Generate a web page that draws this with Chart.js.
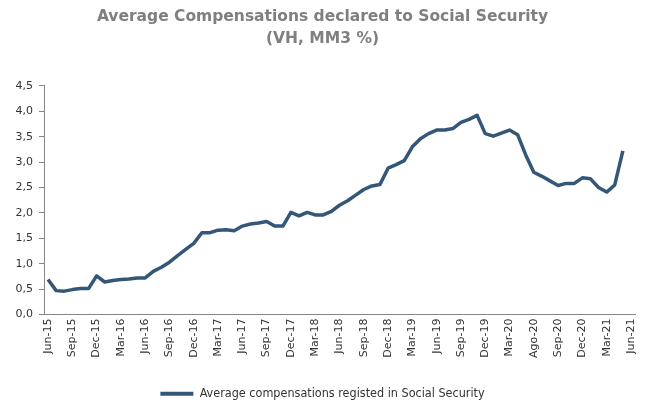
<!DOCTYPE html>
<html>
<head>
<meta charset="utf-8">
<script src="https://cdn.jsdelivr.net/npm/chart.js@4/dist/chart.umd.min.js"></script>
<style>
  html, body { margin: 0; padding: 0; background: #ffffff; }
  #wrap { width: 653px; height: 400px; position: relative; }
</style>
</head>
<body>
<div id="wrap"><canvas id="c" width="653" height="400"></canvas></div>
<script>
const months = [
  'Jun-15','Jul-15','Aug-15','Sep-15','Oct-15','Nov-15','Dec-15',
  'Jan-16','Feb-16','Mar-16','Apr-16','May-16','Jun-16','Jul-16','Aug-16','Sep-16','Oct-16','Nov-16','Dec-16',
  'Jan-17','Feb-17','Mar-17','Apr-17','May-17','Jun-17','Jul-17','Aug-17','Sep-17','Oct-17','Nov-17','Dec-17',
  'Jan-18','Feb-18','Mar-18','Apr-18','May-18','Jun-18','Jul-18','Aug-18','Sep-18','Oct-18','Nov-18','Dec-18',
  'Jan-19','Feb-19','Mar-19','Apr-19','May-19','Jun-19','Jul-19','Aug-19','Sep-19','Oct-19','Nov-19','Dec-19',
  'Jan-20','Feb-20','Mar-20','Apr-20','May-20','Jun-20','Jul-20','Aug-20','Sep-20','Oct-20','Nov-20','Dec-20',
  'Jan-21','Feb-21','Mar-21','Apr-21','May-21','Jun-21'
];

const tickLabels = [
  'Jun-15','Sep-15','Dec-15','Mar-16','Jun-16','Sep-16','Dec-16','Mar-17','Jun-17',
  'Sep-17','Dec-17','Mar-18','Jun-18','Sep-18','Dec-18','Mar-19','Jun-19','Sep-19',
  'Dec-19','Mar-20','Ago-20','Sep-20','Dec-20','Mar-21','Jun-21'
];

const compensations = [
  0.69, 0.47, 0.46, 0.49, 0.51, 0.51, 0.76,
  0.64, 0.67, 0.69, 0.70, 0.72, 0.72, 0.85, 0.93, 1.03, 1.16, 1.28, 1.40,
  1.61, 1.61, 1.66, 1.67, 1.65, 1.74, 1.78, 1.80, 1.83, 1.74, 1.74, 2.01,
  1.94, 2.01, 1.96, 1.96, 2.03, 2.15, 2.24, 2.35, 2.46, 2.53, 2.56, 2.88,
  2.95, 3.03, 3.30, 3.46, 3.56, 3.63, 3.63, 3.66, 3.78, 3.84, 3.92, 3.56,
  3.51, 3.57, 3.63, 3.54, 3.14, 2.80, 2.72, 2.63, 2.54, 2.58, 2.58, 2.69,
  2.67, 2.50, 2.41, 2.55, 3.22
];

const seriesName = 'Average compensations registed in Social Security';
const titleLines = ['Average Compensations declared to Social Security', '(VH, MM3 %)'];

const lineColor = '#345778';
const axisColor = '#868686';
const textColor = '#333333';

new Chart(document.getElementById('c'), {
  type: 'line',
  data: {
    labels: months,
    datasets: [{
      label: seriesName,
      data: compensations,
      borderColor: lineColor,
      backgroundColor: lineColor,
      borderWidth: 3.5,
      pointRadius: 0,
      pointHoverRadius: 0,
      tension: 0,
      borderJoinStyle: 'round',
      borderCapStyle: 'butt',
      fill: false
    }]
  },
  options: {
    responsive: false,
    animation: false,
    devicePixelRatio: 1,
    layout: { padding: { left: 10, right: 18, top: 0, bottom: -10 } },
    plugins: {
      tooltip: { enabled: false },
      title: {
        display: true,
        text: titleLines,
        color: '#7f7f7f',
        font: { family: 'DejaVu Sans', size: 15.5, weight: 'bold', lineHeight: 1.48 },
        padding: { top: 5, bottom: 35 }
      },
      legend: {
        display: true,
        position: 'bottom',
        labels: {
          color: textColor,
          font: { family: 'DejaVu Sans Condensed, DejaVu Sans', size: 12.5 },
          boxWidth: 33,
          boxHeight: 4,
          padding: 3,
          generateLabels: function(chart) {
            const items = Chart.defaults.plugins.legend.labels.generateLabels(chart);
            items.forEach(function(it) { it.lineWidth = 0; it.fillStyle = lineColor; });
            return items;
          }
        }
      }
    },
    scales: {
      x: {
        type: 'category',
        offset: true,
        grid: { display: false, drawTicks: false },
        border: { display: true, color: axisColor, width: 1 },
        ticks: {
          autoSkip: false,
          maxRotation: 90,
          minRotation: 90,
          padding: 4,
          color: textColor,
          font: { family: 'DejaVu Sans', size: 11 },
          callback: function(value, index) {
            return index % 3 === 0 ? tickLabels[index / 3] : '';
          }
        },
        afterFit: function(scale) { scale.height = 70; }
      },
      y: {
        min: 0,
        max: 4.5,
        grid: {
          display: true,
          drawOnChartArea: false,
          drawTicks: true,
          tickLength: 5,
          color: axisColor
        },
        border: { display: true, color: axisColor, width: 1 },
        ticks: {
          stepSize: 0.5,
          padding: 6,
          color: textColor,
          font: { family: 'DejaVu Sans', size: 11 },
          callback: function(value) { return value.toFixed(1).replace('.', ','); }
        },
        afterFit: function(scale) { scale.width = 34; }
      }
    }
  }
});
</script>
</body>
</html>
